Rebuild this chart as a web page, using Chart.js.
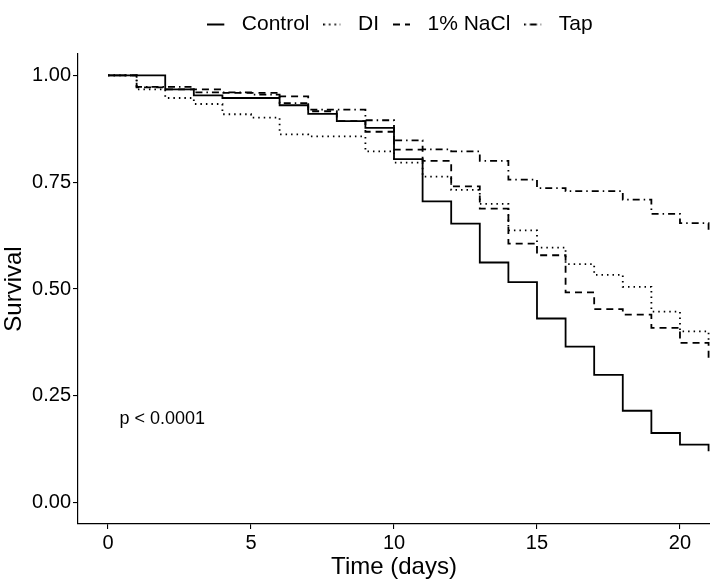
<!DOCTYPE html>
<html>
<head>
<meta charset="utf-8">
<script src="https://cdn.jsdelivr.net/npm/chart.js@4.4.0/dist/chart.umd.min.js"></script>
<style>
  html, body { margin: 0; padding: 0; background: #fff; }
  #wrap { width: 710px; height: 583px; }
</style>
</head>
<body>
<div id="wrap"><canvas id="myChart" width="710" height="583"></canvas></div>
<script>
  // survival step curves, one value per day (holds until the next day)
  const days = [0, 1, 2, 3, 4, 5, 6, 7, 8, 9, 10, 11, 12, 13, 14, 15, 16, 17, 18, 19, 20, 21];
  const control = [1.0, 1.0, 0.967, 0.953, 0.947, 0.947, 0.93, 0.91, 0.893, 0.877, 0.804, 0.705, 0.653, 0.562, 0.516, 0.431, 0.365, 0.299, 0.215, 0.163, 0.136, 0.12];
  const di = [1.0, 0.967, 0.947, 0.933, 0.909, 0.901, 0.862, 0.857, 0.857, 0.822, 0.796, 0.763, 0.732, 0.699, 0.637, 0.597, 0.558, 0.533, 0.505, 0.447, 0.401, 0.38];
  const nacl = [1.0, 0.972, 0.967, 0.967, 0.959, 0.959, 0.951, 0.916, 0.893, 0.868, 0.826, 0.80, 0.74, 0.688, 0.606, 0.579, 0.492, 0.453, 0.44, 0.409, 0.374, 0.33];
  const tap = [1.0, 0.973, 0.973, 0.96, 0.96, 0.955, 0.935, 0.92, 0.92, 0.895, 0.848, 0.827, 0.822, 0.80, 0.756, 0.736, 0.729, 0.729, 0.709, 0.676, 0.654, 0.63];

  const xTicks = [0, 5, 10, 15, 20];
  const yTicks = [0, 0.25, 0.5, 0.75, 1];
  const pLabel = 'p < 0.0001';

  const FONT = "'Liberation Sans', Arial, Helvetica, sans-serif";
  const KEY_W = 24;
  const toPts = (vals) => days.map((d, i) => ({ x: d, y: vals[i] }));

  // little canvas with the line pattern, used as the legend key
  function keyImage(dash) {
    const c = document.createElement('canvas');
    c.width = KEY_W; c.height = 6;
    const g = c.getContext('2d');
    g.strokeStyle = '#000';
    g.lineWidth = 2;
    g.setLineDash(dash);
    g.beginPath();
    g.moveTo(0, 3);
    g.lineTo(17, 3);
    g.stroke();
    return c;
  }

  function series(label, vals, dash) {
    return {
      label: label,
      data: toPts(vals),
      stepped: 'before',
      borderColor: '#000',
      backgroundColor: '#000',
      borderWidth: 1.8,
      borderDash: dash,
      pointRadius: 0,
      pointHoverRadius: 0,
      fill: false
    };
  }

  // p-value text + legend nudge (ggplot centres the legend on the panel)
  const extras = {
    id: 'extras',
    afterLayout(chart) {
      const lg = chart.legend;
      if (lg) {
        lg.left += 45; lg.right += 45;
        lg.top -= 9; lg.bottom -= 9;
      }
    },
    afterDatasetsDraw(chart) {
      const { ctx, scales } = chart;
      ctx.save();
      ctx.font = '18px ' + FONT;
      ctx.fillStyle = '#000';
      ctx.textAlign = 'left';
      ctx.textBaseline = 'middle';
      ctx.fillText(pLabel, scales.x.getPixelForValue(0.4), scales.y.getPixelForValue(0.195));
      ctx.restore();
    }
  };

  const ctx = document.getElementById('myChart').getContext('2d');

  const myChart = new Chart(ctx, {
    type: 'line',
    data: {
      datasets: [
        series('Control', control, []),
        series('DI', di, [1.5, 4]),
        series('1% NaCl', nacl, [7, 5]),
        series('Tap', tap, [1.5, 4, 7, 4])
      ]
    },
    options: {
      responsive: false,
      animation: false,
      events: [],
      layout: { padding: { top: 9, left: 0, right: 0, bottom: 0 } },
      plugins: {
        legend: {
          position: 'top',
          labels: {
            usePointStyle: true,
            pointStyleWidth: KEY_W,
            padding: 14,
            color: '#000',
            font: { family: FONT, size: 21 },
            generateLabels: (chart) => chart.data.datasets.map((ds, i) => ({
              text: ds.label,
              datasetIndex: i,
              pointStyle: keyImage(ds.borderDash),
              fontColor: '#000',
              hidden: false
            }))
          }
        },
        tooltip: { enabled: false }
      },
      scales: {
        x: {
          type: 'linear',
          min: -1.05,
          max: 21.05,
          afterBuildTicks: (s) => { s.ticks = xTicks.map(v => ({ value: v })); },
          afterFit: (s) => { s.height = 59; },
          ticks: {
            color: '#000',
            padding: 2,
            font: { family: FONT, size: 20 },
            callback: (v) => String(v)
          },
          grid: { drawOnChartArea: false, drawTicks: true, tickLength: 5, color: '#000', lineWidth: 1.1 },
          border: { display: true, color: '#000', width: 1.2 },
          title: {
            display: true,
            text: 'Time (days)',
            color: '#000',
            padding: { top: 0, bottom: 1 },
            font: { family: FONT, size: 24 }
          }
        },
        y: {
          min: -0.05,
          max: 1.05,
          afterBuildTicks: (s) => { s.ticks = yTicks.map(v => ({ value: v })); },
          afterFit: (s) => { s.width = 78; },
          ticks: {
            color: '#000',
            padding: 2,
            font: { family: FONT, size: 20 },
            callback: (v) => Number(v).toFixed(2)
          },
          grid: { drawOnChartArea: false, drawTicks: true, tickLength: 5, color: '#000', lineWidth: 1.1 },
          border: { display: true, color: '#000', width: 1.2 },
          title: {
            display: true,
            text: 'Survival',
            color: '#000',
            padding: 0,
            font: { family: FONT, size: 24 }
          }
        }
      }
    },
    plugins: [extras]
  });
</script>
</body>
</html>
